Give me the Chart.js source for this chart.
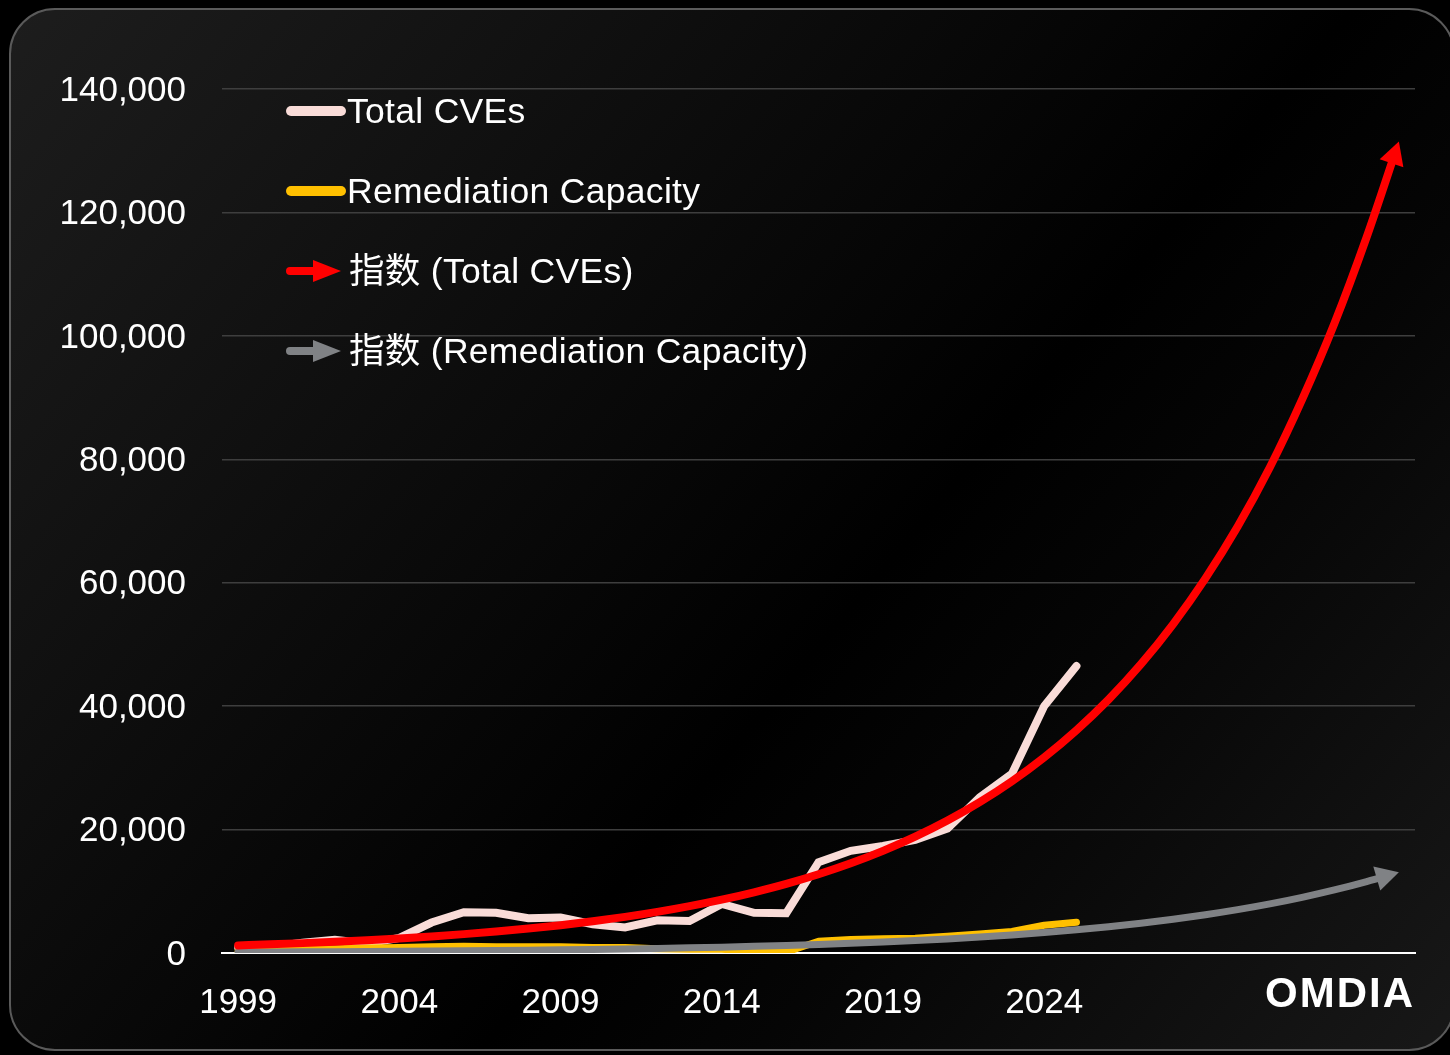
<!DOCTYPE html>
<html>
<head>
<meta charset="utf-8">
<script src="https://cdn.jsdelivr.net/npm/chart.js@4/dist/chart.umd.min.js"></script>
<style>
  html, body { margin: 0; padding: 0; background: #000; }
  body { width: 1450px; height: 1055px; position: relative; overflow: hidden; font-family: "Liberation Sans", "Noto Sans CJK SC", sans-serif; }
  #card {
    position: absolute; left: 9px; top: 8px; width: 1446px; height: 1043px;
    border: 2px solid #5a5a5a; border-radius: 46px; box-sizing: border-box;
    background: linear-gradient(130deg, #1d1d1d 0%, #0a0a0a 38%, #000 58%, #050505 70%, #181818 100%);
  }
  #c { position: absolute; left: 0; top: 0; }
  .leg { position: absolute; height: 40px; line-height: 40px; color: #fff; font-size: 35.5px; white-space: nowrap; letter-spacing: 0.3px; }
  .sw { position: absolute; }
  #logo { position: absolute; right: 35px; top: 972px; height: 42px; line-height: 42px; color: #fff; font-size: 42px; font-weight: bold; letter-spacing: 2px; font-family: "Liberation Sans", sans-serif; }
</style>
</head>
<body>
<div id="card"></div>
<canvas id="c" width="1450" height="1055"></canvas>

<svg class="sw" style="left:282px;top:101px" width="70" height="20"><line x1="9" y1="10" x2="59" y2="10" stroke="#F9DCD8" stroke-width="10" stroke-linecap="round"/></svg>
<div class="leg" style="left:347px;top:91px">Total CVEs</div>

<svg class="sw" style="left:282px;top:181px" width="70" height="20"><line x1="9" y1="10" x2="59" y2="10" stroke="#FFC000" stroke-width="10" stroke-linecap="round"/></svg>
<div class="leg" style="left:347px;top:171px">Remediation Capacity</div>

<svg class="sw" style="left:282px;top:256px" width="70" height="30"><line x1="8" y1="15" x2="34" y2="15" stroke="#FF0000" stroke-width="8" stroke-linecap="round"/><polygon points="31,4 59,15 31,26" fill="#FF0000"/></svg>
<div class="leg" style="left:349px;top:251px">指数 (Total CVEs)</div>

<svg class="sw" style="left:282px;top:336px" width="70" height="30"><line x1="8" y1="15" x2="34" y2="15" stroke="#808285" stroke-width="8" stroke-linecap="round"/><polygon points="31,4 59,15 31,26" fill="#808285"/></svg>
<div class="leg" style="left:349px;top:331px">指数 (Remediation Capacity)</div>

<div id="logo">OMDIA</div>

<script>
// ---- data ----
const years = ['1999','2000','2001','2002','2003','2004','2005','2006','2007','2008','2009','2010','2011','2012','2013','2014','2015','2016','2017','2018','2019','2020','2021','2022','2023','2024','2025','2026','2027','2028','2029','2030','2031','2032','2033','2034','2035'];
const shownYearLabels = ['1999','2004','2009','2014','2019','2024'];

const totalCVEs = [894, 1020, 1677, 2156, 1527, 2450, 4935, 6610, 6520, 5632, 5736, 4652, 4155, 5297, 5191, 7939, 6504, 6454, 14714, 16557, 17344, 18325, 20171, 25227, 29066, 40009, 46500,
  null, null, null, null, null, null, null, null, null, null];

const remediationCapacity = [300, 500, 600, 700, 800, 900, 1000, 1100, 1000, 1000, 1000, 900, 900, 700, 600, 600, 300, 150, 1900, 2200, 2300, 2400, 2700, 3100, 3500, 4500, 5000,
  null, null, null, null, null, null, null, null, null, null];

const trendTotalCVEs = [1230, 1400, 1600, 1820, 2070, 2360, 2680, 3060, 3480, 3960, 4510, 5140, 5850, 6660, 7590, 8640, 9840, 11200, 12760, 14530, 16550, 18850, 21460, 24440, 27830, 31700, 36100, 41100, 46800, 53300, 60700, 69100, 78700, 89700, 102000, 116000, 131500];

const trendRemediation = [146, 165, 187, 212, 241, 273, 309, 350, 397, 450, 510, 577, 654, 741, 840, 951, 1078, 1222, 1384, 1569, 1777, 2014, 2282, 2586, 2930, 3320, 3762, 4262, 4830, 5473, 6201, 7027, 7962, 9022, 10223, 11584, 13100];

const yMin = 0, yMax = 140000, yStep = 20000;

// ---- arrowhead plugin ----
function arrowGeom(chart, idx) {
  const meta = chart.getDatasetMeta(idx);
  const pts = meta.data;
  let last = pts.length - 1;
  while (last > 0 && (pts[last].skip)) last--;
  const p = pts[last];
  let bx = p.cp1x, by = p.cp1y;
  if (bx === undefined || (Math.abs(bx - p.x) < 0.5 && Math.abs(by - p.y) < 0.5)) { bx = pts[last - 1].x; by = pts[last - 1].y; }
  let dx = p.x - bx, dy = p.y - by;
  const len = Math.hypot(dx, dy) || 1;
  dx /= len; dy /= len;
  const ds = chart.data.datasets[idx];
  const L = ds.arrowLen, W = ds.arrowWidth;
  const nx = -dy, ny = dx;
  const base = { x: p.x - dx * L, y: p.y - dy * L };
  return { tip: { x: p.x, y: p.y }, base, dx, dy, nx, ny, W, L };
}
const arrowPlugin = {
  id: 'arrowHeads',
  beforeDatasetDraw(chart, args) {
    const ds = chart.data.datasets[args.index];
    if (!ds.arrow) return;
    const g = arrowGeom(chart, args.index);
    const ctx = chart.ctx;
    ctx.save();
    ctx.beginPath();
    ctx.rect(0, 0, chart.width, chart.height);
    const b = { x: g.base.x + g.dx * 3, y: g.base.y + g.dy * 3 };
    ctx.moveTo(b.x + g.nx * 20, b.y + g.ny * 20);
    ctx.lineTo(b.x + g.nx * 20 + g.dx * 40, b.y + g.ny * 20 + g.dy * 40);
    ctx.lineTo(b.x - g.nx * 20 + g.dx * 40, b.y - g.ny * 20 + g.dy * 40);
    ctx.lineTo(b.x - g.nx * 20, b.y - g.ny * 20);
    ctx.closePath();
    ctx.clip('evenodd');
  },
  afterDatasetDraw(chart, args) {
    const ds = chart.data.datasets[args.index];
    if (!ds.arrow) return;
    const ctx = chart.ctx;
    ctx.restore();
    const g = arrowGeom(chart, args.index);
    ctx.save();
    ctx.fillStyle = ds.borderColor;
    ctx.beginPath();
    ctx.moveTo(g.tip.x, g.tip.y);
    ctx.lineTo(g.base.x + g.nx * g.W / 2, g.base.y + g.ny * g.W / 2);
    ctx.lineTo(g.base.x - g.nx * g.W / 2, g.base.y - g.ny * g.W / 2);
    ctx.closePath();
    ctx.fill();
    ctx.restore();
  }
};

const FONT = '"Liberation Sans", "Noto Sans CJK SC", sans-serif';

new Chart(document.getElementById('c'), {
  type: 'line',
  data: {
    labels: years,
    datasets: [
      { label: 'Total CVEs', data: totalCVEs, borderColor: '#F9DCD8', borderWidth: 8, pointRadius: 0, tension: 0, borderCapStyle: 'round', borderJoinStyle: 'miter', order: 4, spanGaps: false },
      { label: 'Remediation Capacity', data: remediationCapacity, borderColor: '#FFC000', borderWidth: 7, pointRadius: 0, tension: 0, borderCapStyle: 'round', borderJoinStyle: 'round', order: 3, spanGaps: false },
      { label: '指数 (Total CVEs)', data: trendTotalCVEs, borderColor: '#FF0000', borderWidth: 8, pointRadius: 0, cubicInterpolationMode: 'monotone', borderCapStyle: 'round', order: 1, arrow: true, arrowLen: 23, arrowWidth: 25 },
      { label: '指数 (Remediation Capacity)', data: trendRemediation, borderColor: '#808285', borderWidth: 7, pointRadius: 0, cubicInterpolationMode: 'monotone', borderCapStyle: 'round', order: 2, arrow: true, arrowLen: 23, arrowWidth: 25 }
    ]
  },
  options: {
    responsive: false,
    animation: false,
    layout: { padding: { left: 0, right: 35, top: 89, bottom: 0 } },
    plugins: { legend: { display: false }, tooltip: { enabled: false } },
    scales: {
      x: {
        type: 'category',
        offset: true,
        grid: { display: false, drawTicks: false },
        border: { display: true, color: '#FFFFFF', width: 2 },
        ticks: {
          autoSkip: false, maxRotation: 0, minRotation: 0, padding: 29,
          color: '#FFFFFF', font: { family: FONT, size: 35 },
          callback: function (v, i) { const y = years[i]; return shownYearLabels.includes(y) ? y : ''; }
        },
        afterFit(scale) { scale.height = 102; }
      },
      y: {
        min: yMin, max: yMax,
        grid: { color: '#3e3e3e', lineWidth: 1.5, drawTicks: false },
        border: { display: false },
        ticks: {
          stepSize: yStep, padding: 36, labelOffset: 2, color: '#FFFFFF', font: { family: FONT, size: 35 },
          callback: v => Number(v).toLocaleString('en-US')
        },
        afterFit(scale) { scale.width = 222; }
      }
    }
  },
  plugins: [arrowPlugin]
});
</script>
</body>
</html>
